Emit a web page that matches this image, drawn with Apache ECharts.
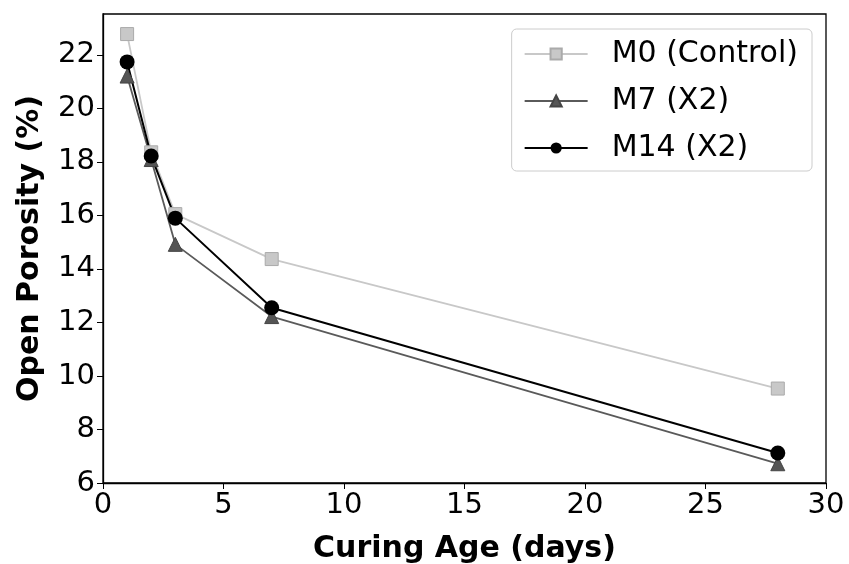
<!DOCTYPE html>
<html><head><meta charset="utf-8">
<script src="https://cdn.jsdelivr.net/npm/echarts@6/dist/echarts.min.js"></script>
<style>html,body{margin:0;padding:0;background:#fff}#c{width:849px;height:564px}</style>
</head><body><div id="c"></div>
<script>
const ages = [1, 2, 3, 7, 28];
const m0 = [22.78, 18.36, 16.05, 14.37, 9.53];
const m7 = [21.21, 18.09, 14.92, 12.22, 6.72];
const m14 = [21.74, 18.22, 15.9, 12.55, 7.12];
const seriesNames = ['M0 (Control)', 'M7 (X2)', 'M14 (X2)'];
const xTicks = [0, 5, 10, 15, 20, 25, 30];
const yTicks = [6, 8, 10, 12, 14, 16, 18, 20, 22];

const pair = (ys) => ages.map((x, i) => [x, ys[i]]);
const font = 'DejaVu Sans';
const chart = echarts.init(document.getElementById('c'));
chart.setOption({
  animation: false,
  backgroundColor: '#fff',
  grid: { left: 103, right: 23, top: 14, bottom: 81, containLabel: false, outerBoundsMode: 'none',
          show: true, borderColor: '#000', borderWidth: 1.3, backgroundColor: 'transparent' },
  legend: {
    right: 37, top: 29, orient: 'vertical',
    itemWidth: 63, itemHeight: 14, itemGap: 17,
    padding: [10, 14, 8, 12],
    backgroundColor: '#fff', borderColor: '#ccc', borderWidth: 1, borderRadius: 5,
    textStyle: { fontFamily: font, fontSize: 30, color: '#000', padding: [0, 0, 0, 19] },
    data: seriesNames
  },
  xAxis: {
    type: 'value', min: 0, max: 30, interval: 5,
    name: 'Curing Age (days)', nameLocation: 'middle', nameGap: 51,
    nameTextStyle: { fontFamily: font, fontSize: 30, fontWeight: 'bold', color: '#000' },
    axisLine: { show: true, onZero: false, lineStyle: { color: '#000', width: 1.3 } },
    axisTick: { show: true, length: 6, lineStyle: { color: '#000' }, customValues: xTicks },
    axisLabel: { fontFamily: font, fontSize: 29, color: '#000', margin: 8, customValues: xTicks },
    splitLine: { show: false }
  },
  yAxis: {
    type: 'value', min: 6, max: 23.53, interval: 2,
    name: 'Open Porosity (%)', nameLocation: 'middle', nameGap: 58,
    nameTextStyle: { fontFamily: font, fontSize: 30, fontWeight: 'bold', color: '#000' },
    axisLine: { show: true, lineStyle: { color: '#000', width: 1.3 } },
    axisTick: { show: true, length: 6, lineStyle: { color: '#000' }, customValues: yTicks },
    axisLabel: { fontFamily: font, fontSize: 29, color: '#000', margin: 8, customValues: yTicks },
    splitLine: { show: false }
  },
  series: [
    { name: seriesNames[0], type: 'line', data: pair(m0), symbol: 'rect', symbolSize: 13,
      lineStyle: { color: '#c8c8c8', width: 1.8 },
      itemStyle: { color: '#c8c8c8', borderColor: '#aaa', borderWidth: 1 } },
    { name: seriesNames[1], type: 'line', data: pair(m7), symbol: 'triangle', symbolSize: 14,
      lineStyle: { color: '#5a5a5a', width: 1.8 },
      itemStyle: { color: '#555', borderColor: '#444', borderWidth: 1 } },
    { name: seriesNames[2], type: 'line', data: pair(m14), symbol: 'circle', symbolSize: 15,
      lineStyle: { color: '#000', width: 2 },
      itemStyle: { color: '#000' } }
  ]
});
</script></body></html>
